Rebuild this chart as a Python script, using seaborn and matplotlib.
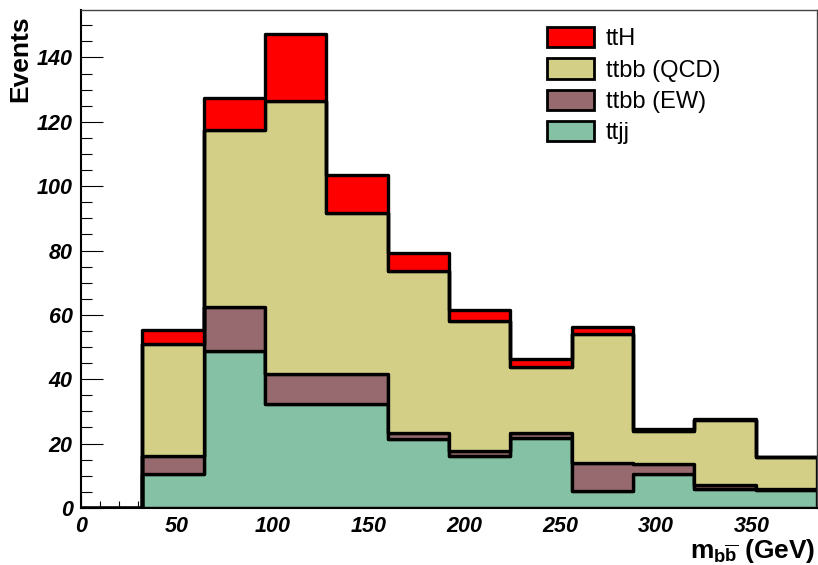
import matplotlib
matplotlib.use("Agg")
import matplotlib.pyplot as plt
from matplotlib.patches import Patch
from matplotlib.ticker import MultipleLocator
import numpy as np
import pandas as pd
import seaborn as sns

# bin edges of the m_bb histogram (GeV)
bin_edges = list(range(0, 385, 32))
bin_centers = [(a + b) / 2 for a, b in zip(bin_edges[:-1], bin_edges[1:])]

# events per bin for each process
tth = [0, 4.5, 9.7, 20.7, 12.0, 5.6, 3.2, 2.3, 2.1, 0.4, 0.3, 0.2]
ttbb_qcd = [0, 34.8, 55.1, 84.9, 50.0, 50.3, 40.5, 20.5, 40.3, 10.3, 20.2, 9.8]
ttbb_ew = [0, 5.6, 13.7, 9.2, 9.2, 1.9, 1.5, 1.7, 8.6, 3.3, 1.2, 0.4]
ttjj = [0, 10.5, 48.8, 32.4, 32.4, 21.5, 16.2, 21.7, 5.3, 10.4, 6.0, 5.5]

processes = ["ttH", "ttbb (QCD)", "ttbb (EW)", "ttjj"]
colors = {"ttH": "#ff0000", "ttbb (QCD)": "#d3cf87",
          "ttbb (EW)": "#966a6e", "ttjj": "#85c1a5"}

# long format table for seaborn
frames = []
for name, vals in zip(processes, [tth, ttbb_qcd, ttbb_ew, ttjj]):
    frames.append(pd.DataFrame({"mbb": bin_centers, "events": vals, "process": name}))
df = pd.concat(frames, ignore_index=True)

sns.set_style("ticks")
plt.rcParams["font.family"] = ["Liberation Sans", "DejaVu Sans"]
plt.rcParams["text.color"] = "black"
plt.rcParams["axes.labelcolor"] = "black"
plt.rcParams["xtick.color"] = "black"
plt.rcParams["ytick.color"] = "black"
plt.rcParams["mathtext.fontset"] = "custom"
plt.rcParams["mathtext.rm"] = "Liberation Sans"
plt.rcParams["mathtext.bf"] = "Liberation Sans:bold"
plt.rcParams["mathtext.it"] = "Liberation Sans:italic"

fig = plt.figure(figsize=(8.18, 5.65), dpi=100)
ax = fig.add_axes([0.099, 0.101, 0.9, 0.881])

sns.histplot(data=df, x="mbb", weights="events", hue="process", hue_order=processes,
             multiple="stack", element="step", bins=bin_edges, palette=colors,
             alpha=1, edgecolor="black", linewidth=2.4, legend=False, ax=ax)

ax.set_xlim(0, 384)
ax.set_ylim(0, 154.7)

# ROOT style ticks
ax.xaxis.set_major_locator(MultipleLocator(50))
ax.xaxis.set_minor_locator(MultipleLocator(10))
ax.yaxis.set_major_locator(MultipleLocator(20))
ax.yaxis.set_minor_locator(MultipleLocator(5))
ax.tick_params(axis="y", which="major", direction="in", length=15.5, width=0.8, pad=6)
ax.tick_params(axis="y", which="minor", direction="in", length=8, width=0.8)
ax.tick_params(axis="x", which="major", direction="in", length=10, width=0.8, pad=6)
ax.tick_params(axis="x", which="minor", direction="in", length=5, width=0.8)
for lab in ax.get_xticklabels() + ax.get_yticklabels():
    lab.set_fontsize(15.5)
    lab.set_fontweight("bold")
    lab.set_fontstyle("italic")
    lab.set_color("black")

for side in ["left", "bottom"]:
    ax.spines[side].set_linewidth(1.5)
    ax.spines[side].set_color("black")
for side in ["top", "right"]:
    ax.spines[side].set_linewidth(1)
    ax.spines[side].set_color("#444444")

ax.set_ylabel("Events", fontsize=19, fontweight="bold", loc="top")
ax.yaxis.set_label_coords(-0.066, 0.99)
ax.set_xlabel(r"$\mathbf{m_{b\overline{b}}}$ (GeV)", fontsize=19, fontweight="bold", loc="right")
ax.xaxis.set_label_coords(0.997, -0.059)

handles = [Patch(facecolor=colors[p], edgecolor="black", linewidth=2, label=p) for p in processes]
ax.legend(handles=handles, loc="upper left", bbox_to_anchor=(0.62, 0.985), frameon=False,
          fontsize=17, handlelength=2.0, handleheight=0.95, labelspacing=0.34,
          handletextpad=0.5, borderaxespad=0)

plt.savefig("out.png", dpi=100)
